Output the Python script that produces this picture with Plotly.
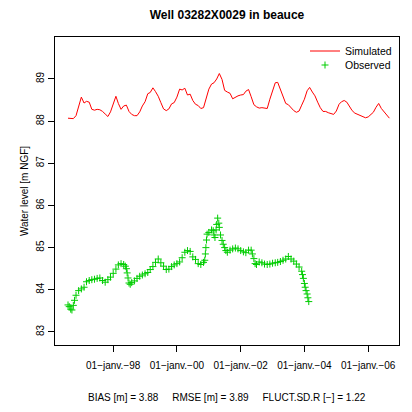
import plotly.graph_objects as go
import pandas as pd

# ---- data ----
sim_start = "1996-08-01"
sim_values = [
    88.07, 88.06, 88.06, 88.13, 88.34, 88.57, 88.43, 88.47, 88.45, 88.28, 88.26, 88.28,
    88.27, 88.23, 88.17, 88.11, 88.22, 88.40, 88.59, 88.42, 88.28, 88.36, 88.38, 88.23,
    88.16, 88.13, 88.13, 88.22, 88.36, 88.46, 88.65, 88.68, 88.79, 88.70, 88.59, 88.44,
    88.29, 88.25, 88.29, 88.41, 88.44, 88.57, 88.76, 88.74, 88.78, 88.62, 88.64, 88.49,
    88.40, 88.37, 88.30, 88.32, 88.56, 88.76, 88.88, 88.91, 89.00, 89.13, 88.99, 88.73,
    88.69, 88.66, 88.53, 88.57, 88.60, 88.62, 88.63, 88.71, 88.75, 88.58, 88.39, 88.34,
    88.31, 88.32, 88.31, 88.30, 88.52, 88.74, 88.91, 88.92, 88.75, 88.54, 88.42, 88.39,
    88.31, 88.25, 88.21, 88.24, 88.38, 88.52, 88.72, 88.80, 88.69, 88.60, 88.45, 88.32,
    88.23, 88.23, 88.20, 88.17, 88.16, 88.24, 88.40, 88.46, 88.49, 88.45, 88.33, 88.25,
    88.19, 88.16, 88.13, 88.11, 88.08, 88.10, 88.16, 88.21, 88.33, 88.42, 88.30, 88.22,
    88.14, 88.07,
]
sim_dates = pd.date_range(sim_start, periods=len(sim_values), freq="MS")

obs_dates = [
    "1996-08-01", "1996-08-15", "1996-09-01", "1996-09-15", "1996-10-01", "1996-10-15", "1996-11-01", "1996-12-01",
    "1997-01-01", "1997-02-01", "1997-03-01", "1997-04-01", "1997-05-01", "1997-06-01",
    "1997-07-01", "1997-08-01", "1997-09-01", "1997-10-01", "1997-11-01", "1997-12-01",
    "1998-01-01", "1998-02-01", "1998-03-01", "1998-04-01", "1998-05-01", "1998-05-20",
    "1998-06-01", "1998-06-10", "1998-06-20", "1998-07-01", "1998-07-15",
    "1998-08-01", "1998-09-01", "1998-10-01", "1998-11-01", "1998-12-01",
    "1999-01-01", "1999-02-01", "1999-03-01", "1999-04-01", "1999-05-01", "1999-06-01",
    "1999-07-01", "1999-08-01", "1999-09-01", "1999-10-01", "1999-11-01", "1999-12-01",
    "2000-01-01", "2000-02-01", "2000-03-01", "2000-04-01", "2000-05-01", "2000-06-01",
    "2000-07-01", "2000-08-01", "2000-09-01", "2000-10-01", "2000-11-01", "2000-11-15",
    "2000-11-22", "2000-11-28", "2000-12-05", "2000-12-12", "2001-01-01", "2001-02-01",
    "2001-02-20", "2001-03-01", "2001-03-12", "2001-03-25", "2001-04-01", "2001-04-12",
    "2001-04-25", "2001-05-01", "2001-05-15", "2001-06-01", "2001-06-15", "2001-07-01",
    "2001-07-15", "2001-08-01", "2001-09-01", "2001-10-01", "2001-11-01", "2001-12-01",
    "2002-01-01", "2002-02-01", "2002-03-01", "2002-04-01", "2002-05-01", "2002-05-15",
    "2002-06-01", "2002-06-15", "2002-07-01", "2002-08-01", "2002-09-01", "2002-10-01",
    "2002-11-01", "2002-12-01", "2003-01-01", "2003-02-01", "2003-03-01", "2003-04-01",
    "2003-05-01", "2003-06-01", "2003-07-01", "2003-08-01", "2003-09-01", "2003-10-01",
    "2003-11-01", "2003-12-01", "2003-12-10", "2003-12-20", "2004-01-01", "2004-01-10",
    "2004-01-20", "2004-02-01", "2004-02-10", "2004-02-20",
]
obs_values = [
    83.64, 83.60, 83.54, 83.52, 83.63, 83.75, 83.87, 83.98,
    84.02, 84.06, 84.19, 84.22, 84.24, 84.25,
    84.27, 84.28, 84.22, 84.18, 84.24, 84.30,
    84.39, 84.49, 84.59, 84.62, 84.60, 84.56,
    84.50, 84.40, 84.28, 84.16, 84.13,
    84.17, 84.21, 84.27, 84.32, 84.35,
    84.38, 84.41, 84.48, 84.55, 84.65, 84.73,
    84.64, 84.56, 84.48, 84.49, 84.55, 84.59,
    84.62, 84.66, 84.76, 84.89, 84.93, 84.91,
    84.78, 84.72, 84.62, 84.60, 84.65, 84.70,
    84.85, 85.00, 85.18, 85.32, 85.36, 85.42,
    85.40, 85.30, 85.24, 85.42, 85.55, 85.70,
    85.58, 85.48, 85.30, 85.17, 85.08, 85.00,
    84.93, 84.89, 84.94, 84.97, 84.99, 84.97,
    84.93, 84.90, 84.88, 84.94, 84.94, 84.85,
    84.74, 84.62, 84.60, 84.66, 84.64, 84.61,
    84.60, 84.61, 84.63, 84.64, 84.65, 84.67,
    84.70, 84.73, 84.79, 84.73, 84.68, 84.61,
    84.54, 84.44, 84.36, 84.27, 84.15, 84.06,
    83.98, 83.90, 83.81, 83.72,
]

tick_dates = ["1998-01-01", "2000-01-01", "2002-01-01", "2004-01-01", "2006-01-01"]
tick_labels = ["01\u2212janv.\u221298", "01\u2212janv.\u221200", "01\u2212janv.\u221202",
               "01\u2212janv.\u221204", "01\u2212janv.\u221206"]
y_ticks = [83, 84, 85, 86, 87, 88, 89]

title_text = "Well 03282X0029 in beauce"
ylabel = "Water level [m NGF]"
stats_text = "BIAS [m] = 3.88     RMSE [m] = 3.89     FLUCT.SD.R [\u2212] = 1.22"

FONT = "Liberation Sans, Arial, Helvetica, sans-serif"
GREEN = "#00CD00"

# page has an 8px body margin: figure coordinates = page coordinates - 8
OFF = 8
W = H = 412 - OFF
PLOT_L, PLOT_T, PLOT_W, PLOT_H = 55 - OFF, 37 - OFF, 344, 308

fig = go.Figure()
fig.add_trace(go.Scatter(
    x=sim_dates, y=sim_values, mode="lines", name="Simulated",
    line=dict(color="#FF0000", width=1), legend="legend",
))
fig.add_trace(go.Scatter(
    x=pd.to_datetime(obs_dates), y=obs_values, mode="markers", name="Observed",
    marker=dict(symbol="cross-thin", size=5, color=GREEN,
                line=dict(color=GREEN, width=1)),
    legend="legend2",
))


def py(page_px):
    return (PLOT_T + PLOT_H - (page_px - OFF)) / PLOT_H


def pxx(page_px):
    return ((page_px - OFF) - PLOT_L) / PLOT_W


legend_common = dict(xanchor="left", yanchor="middle", bgcolor="rgba(0,0,0,0)",
                     borderwidth=0, font=dict(size=10.5, family=FONT), itemwidth=30)

fig.update_layout(
    width=W, height=H,
    margin=dict(l=PLOT_L, r=W - PLOT_L - PLOT_W, t=PLOT_T, b=H - PLOT_T - PLOT_H,
                autoexpand=False),
    paper_bgcolor="white", plot_bgcolor="white",
    font=dict(family=FONT, size=10, color="black"),
    title=dict(text="<b>" + title_text + "</b>", x=0.5, xref="paper",
               y=1 - (15 - OFF) / H, yref="container", yanchor="middle",
               font=dict(size=12, family=FONT)),
    showlegend=True,
    legend=dict(x=pxx(305), y=py(51), **legend_common),
    legend2=dict(x=pxx(305), y=py(65), **legend_common),
    xaxis=dict(
        range=["1996-03-05", "2006-12-20"], showgrid=False, zeroline=False,
        automargin=False,
        tickmode="array", tickvals=tick_dates, ticktext=tick_labels,
        ticks="outside", ticklen=6, tickcolor="black", tickwidth=1,
        showline=True, linecolor="black", linewidth=1, mirror=True,
        tickfont=dict(size=10), ticklabelstandoff=5,
    ),
    yaxis=dict(
        range=[82.69, 89.996], showgrid=False, zeroline=False,
        automargin=False,
        tickmode="array", tickvals=y_ticks, ticktext=[str(v) for v in y_ticks],
        ticks="outside", ticklen=6, tickcolor="black", tickwidth=1,
        tickangle=-90,
        showline=True, linecolor="black", linewidth=1, mirror=True,
        title=dict(text=ylabel, font=dict(size=10), standoff=4),
        tickfont=dict(size=10),
    ),
    annotations=[dict(
        text=stats_text, xref="paper", yref="paper", x=0.5, y=py(397),
        xanchor="center", yanchor="middle", showarrow=False,
        font=dict(size=10, family=FONT),
    )],
)

fig.write_html("out.html")
